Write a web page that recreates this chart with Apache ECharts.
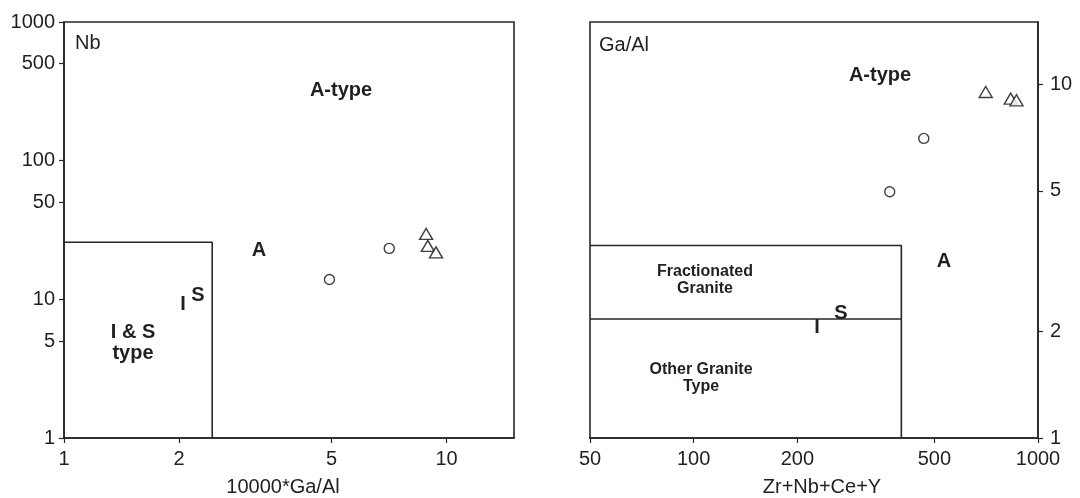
<!DOCTYPE html>
<html>
<head>
<meta charset="utf-8">
<title>Granite discrimination diagrams</title>
<script src="https://cdn.jsdelivr.net/npm/echarts@6/dist/echarts.min.js"></script>
<style>
  html, body { margin: 0; padding: 0; background: #fff; }
  #chart { width: 1080px; height: 498px; }
</style>
</head>
<body>
<div id="chart"></div>
<script>
// Tick values for the four log axes
const leftTicksX = [1, 2, 5, 10];
const leftTicksY = [1, 5, 10, 50, 100, 500, 1000];
const rightTicksX = [50, 100, 200, 500, 1000];
const rightTicksY = [1, 2, 5, 10];

// Left diagram: 10000*Ga/Al vs Nb
const gaAlCircles = [4.94, 7.08];
const nbCircles = [13.9, 23.3];
const gaAlTriangles = [8.84, 8.93, 9.38];
const nbTriangles = [29.6, 24.3, 21.8];

// Right diagram: Zr+Nb+Ce+Y vs 10000*Ga/Al
const zrSumCircles = [371, 466];
const gaAlCirclesR = [4.97, 7.03];
const zrSumTriangles = [705, 833, 866];
const gaAlTrianglesR = [9.51, 9.11, 9.01];

// Field boundaries
const isFieldGaAl = 2.44;      // I & S type field, right edge
const isFieldNb = 25.8;        // I & S type field, top edge
const fgFieldZrSum = 401;      // fractionated / other granite fields, right edge
const fgFieldTop = 3.5;        // fractionated granite, top edge
const fgFieldBase = 2.17;      // fractionated / other granite divide

const zip = (xs, ys) => xs.map((x, i) => [x, ys[i]]);

const FONT = '"Liberation Sans", Arial, Helvetica, sans-serif';
const INK = '#231f20';
const LINE = '#262626';

function logAxis(gridIndex, min, max, ticks, position, margin) {
  return {
    type: 'log',
    logBase: 10,
    gridIndex: gridIndex,
    position: position,
    min: min,
    max: max,
    axisLine: { show: true, lineStyle: { color: LINE, width: 1.6 } },
    axisTick: { show: true, inside: false, length: 5, customValues: ticks,
                lineStyle: { color: LINE, width: 1.2 } },
    axisLabel: { show: true, customValues: ticks, color: INK, fontSize: 20,
                 fontFamily: FONT, margin: margin,
                 formatter: v => String(Math.round(v)) },
    splitLine: { show: false },
    minorTick: { show: false },
    minorSplitLine: { show: false }
  };
}

const lineStyle = { color: LINE, width: 1.6 };
function boundary(xIdx, yIdx, pts) {
  return {
    type: 'line', xAxisIndex: xIdx, yAxisIndex: yIdx, data: pts,
    symbol: 'none', lineStyle: lineStyle, silent: true, animation: false, z: 3
  };
}
function marks(xIdx, yIdx, pts, symbol, size) {
  return {
    type: 'scatter', xAxisIndex: xIdx, yAxisIndex: yIdx, data: pts,
    symbol: symbol, symbolSize: size,
    itemStyle: { color: '#fff', borderColor: '#111', borderWidth: 1.4 },
    animation: false, z: 5
  };
}

function txt(x, y, text, size, bold, align) {
  return {
    type: 'text', x: x, y: y, z: 10,
    style: {
      text: text, fill: INK, fontSize: size, fontFamily: FONT,
      fontWeight: bold ? 'bold' : 'normal',
      align: align || 'center', verticalAlign: 'middle', lineHeight: size * 1.05
    }
  };
}

const chart = echarts.init(document.getElementById('chart'), null, { renderer: 'canvas' });

chart.setOption({
  backgroundColor: '#fff',
  animation: false,
  grid: [
    { left: 64, top: 22, width: 450, height: 416, show: true,
      borderColor: LINE, borderWidth: 1.6, backgroundColor: 'transparent' },
    { left: 590, top: 22, width: 448, height: 416, show: true,
      borderColor: LINE, borderWidth: 1.6, backgroundColor: 'transparent' }
  ],
  xAxis: [
    logAxis(0, 1, 15, leftTicksX, 'bottom', 11),
    logAxis(1, 50, 1000, rightTicksX, 'bottom', 11)
  ],
  yAxis: [
    logAxis(0, 1, 1000, leftTicksY, 'left', 9),
    logAxis(1, 1, 15, rightTicksY, 'right', 12)
  ],
  series: [
    boundary(0, 0, [[1, isFieldNb], [isFieldGaAl, isFieldNb], [isFieldGaAl, 1]]),
    marks(0, 0, zip(gaAlCircles, nbCircles), 'circle', 10),
    marks(0, 0, zip(gaAlTriangles, nbTriangles), 'triangle', [13, 11]),

    boundary(1, 1, [[50, fgFieldTop], [fgFieldZrSum, fgFieldTop], [fgFieldZrSum, 1]]),
    boundary(1, 1, [[50, fgFieldBase], [fgFieldZrSum, fgFieldBase]]),
    marks(1, 1, zip(zrSumCircles, gaAlCirclesR), 'circle', 10),
    marks(1, 1, zip(zrSumTriangles, gaAlTrianglesR), 'triangle', [13, 11])
  ],
  graphic: [
    // left diagram
    txt(75, 43, 'Nb', 20, false, 'left'),
    txt(341, 90, 'A-type', 20, true),
    txt(259, 250, 'A', 20, true),
    txt(183, 304, 'I', 20, true),
    txt(198, 295, 'S', 20, true),
    txt(133, 343, 'I & S\ntype', 20, true),
    txt(283, 487, '10000*Ga/Al', 20, false),
    // right diagram
    txt(599, 45, 'Ga/Al', 20, false, 'left'),
    txt(880, 75, 'A-type', 20, true),
    txt(944, 261, 'A', 20, true),
    txt(705, 280, 'Fractionated\nGranite', 16, true),
    txt(817, 327, 'I', 20, true),
    txt(841, 313, 'S', 20, true),
    txt(701, 378, 'Other Granite\nType', 16, true),
    txt(822, 487, 'Zr+Nb+Ce+Y', 20, false)
  ]
});
</script>
</body>
</html>
